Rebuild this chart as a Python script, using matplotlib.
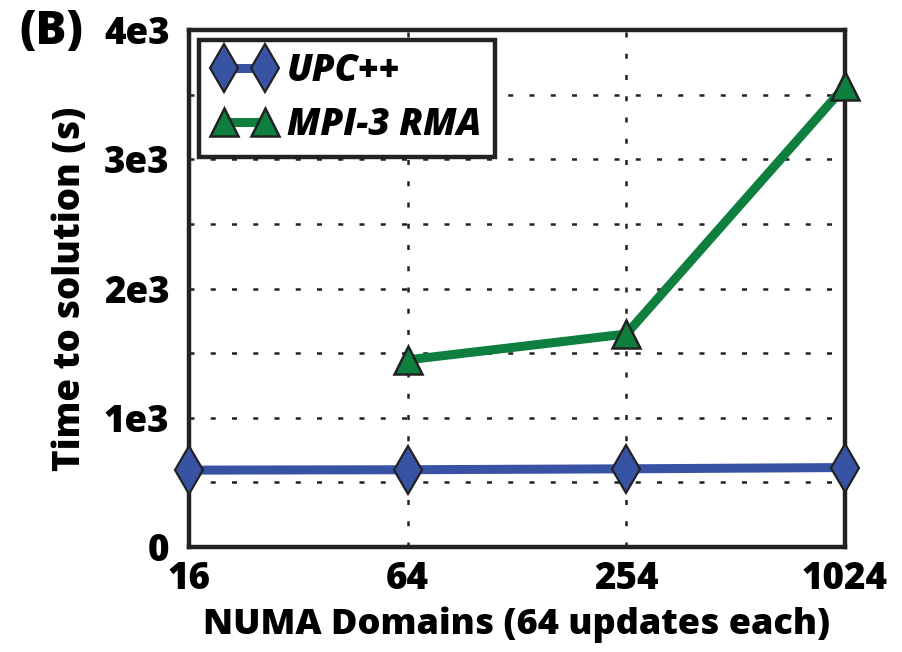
import matplotlib
matplotlib.use('Agg')
import matplotlib.pyplot as plt
import numpy as np
from matplotlib.ticker import MultipleLocator

# data
domains = ['16', '64', '254', '1024']
upc_time = [595, 598, 605, 615]
mpi_domains = ['64', '254', '1024']
mpi_time = [1448, 1648, 3565]

y_ticks = [0, 1000, 2000, 3000, 4000]
y_tick_labels = ['0', '1e3', '2e3', '3e3', '4e3']

blue = '#3953A4'
green = '#0E7F3E'

plt.rcParams['font.family'] = ['Open Sans', 'DejaVu Sans']
plt.rcParams['font.weight'] = 'heavy'

fig = plt.figure(figsize=(9.02, 6.52), dpi=100)
ax = fig.add_axes([0.2095, 0.1610, 0.7273, 0.7930])

x_all = np.arange(len(domains))
x_mpi = [domains.index(d) for d in mpi_domains]

ax.plot(x_all, upc_time, '-', color=blue, linewidth=6.5, marker='d',
        markersize=24, markerfacecolor=blue, markeredgecolor='#222222',
        markeredgewidth=1.6, label='UPC++', zorder=5, clip_on=False)
ax.plot(x_mpi, mpi_time, '-', color=green, linewidth=6.5, marker='^',
        markersize=20, markerfacecolor=green, markeredgecolor='#222222',
        markeredgewidth=1.8, label='MPI-3 RMA', zorder=5, clip_on=False)

ax.set_xlim(0, 3)
ax.set_ylim(0, 4000)
ax.set_xticks(x_all)
ax.set_xticklabels(domains)
ax.set_yticks(y_ticks)
ax.set_yticklabels(y_tick_labels)
ax.yaxis.set_minor_locator(MultipleLocator(500))

ax.grid(True, which='both', color='#222222', linestyle=(0, (2, 6.5)), linewidth=1.8)
ax.tick_params(axis='both', which='both', length=0, labelsize=26.5)
ax.tick_params(axis='x', pad=10)
ax.tick_params(axis='y', pad=14)
for lbl in ax.get_xticklabels() + ax.get_yticklabels():
    lbl.set_fontweight('heavy')

for sp in ax.spines.values():
    sp.set_linewidth(3.2)
    sp.set_color('#222222')

ax.set_xlabel('NUMA Domains (64 updates each)', fontsize=26, fontweight='heavy', labelpad=6)
ax.set_ylabel('Time to solution (s)', fontsize=26.5, fontweight='heavy', labelpad=11)

leg = ax.legend(loc='upper left', numpoints=2, fontsize=26.5, frameon=True,
                fancybox=False, borderpad=0.36, handlelength=1.72,
                handletextpad=0.3, labelspacing=0.45, borderaxespad=0,
                bbox_to_anchor=(0.016, 0.981))
leg.get_frame().set_edgecolor('#222222')
leg.get_frame().set_linewidth(3.2)
leg.get_frame().set_alpha(1)
for t in leg.get_texts():
    t.set_fontstyle('italic')
    t.set_fontweight('heavy')

fig.text(0.021, 0.951, '(B)', fontsize=33, fontweight='heavy', va='center', ha='left')

fig.savefig('out.png', dpi=100, facecolor='white')
